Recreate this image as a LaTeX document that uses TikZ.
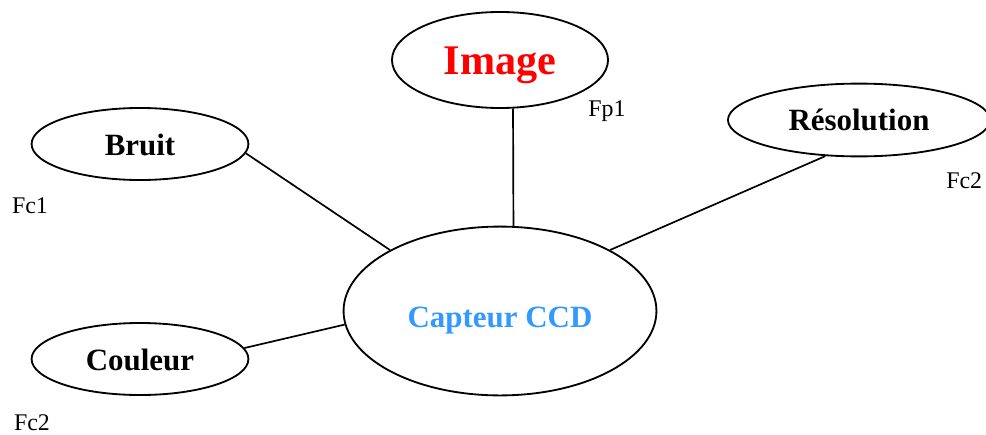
\documentclass[tikz,border=0pt]{standalone}
\usepackage{fontspec}
\setmainfont{Liberation Serif}
\usetikzlibrary{shapes.geometric}
\definecolor{ccdblue}{RGB}{51,153,255}

\begin{document}
\begin{tikzpicture}[x=0.025cm,y=-0.025cm,
	bubble/.style={draw,ellipse,line width=1.3pt,inner sep=0pt,font=\fontsize{22}{22}\selectfont\bfseries,text height=14.9pt,text depth=0pt},
	tag/.style={font=\fontsize{17}{17}\selectfont,inner sep=0pt},
	link/.style={line width=1.2pt}]
	\useasboundingbox (0,0) rectangle (986,434);
	
	%ELLIPSES
	\node[bubble,minimum width=7.82cm,minimum height=4.22cm,text=ccdblue,text height=23.5pt] (ccd) at (500,311) {Capteur CCD};
	\node[bubble,minimum width=5.4cm,minimum height=2.4cm,text=red,font=\fontsize{30}{30}\selectfont\bfseries,text height=20.3pt] (image) at (500,60) {Image};
	\node[bubble,minimum width=5.42cm,minimum height=1.8cm,text height=16pt] (bruit) at (140,144) {Bruit};
	\node[bubble,minimum width=5.42cm,minimum height=1.8cm,text height=16pt] (couleur) at (140,359) {Couleur};
	\node[bubble,minimum width=6.55cm,minimum height=1.82cm] (resol) at (859,120) {Résolution};
	
	%LINKS
	\draw[link] (bruit.-5) -- (ccd.151);
	\draw[link] (image.-75) -- (ccd.81);
	\draw[link] (resol.-133) -- (ccd.29);
	\draw[link] (couleur.6) -- (ccd.185);
	
	%TAGS
	\node[tag] (fp1) at (607,111) {Fp1};
	\node[tag,anchor=west] (fc2r) at (946,181) {Fc2};
	\node[tag] (fc1) at (30,206) {Fc1};
	\node[tag] (fc2l) at (32,423) {Fc2};
\end{tikzpicture}
\end{document}
